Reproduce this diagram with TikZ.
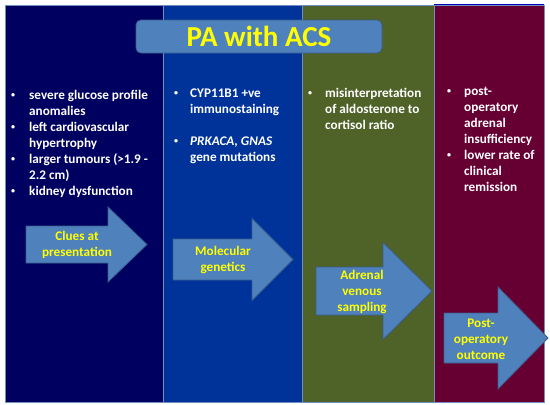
\documentclass[tikz,border=0pt]{standalone}
\usepackage{fontspec}
\setmainfont{Carlito}
\usepackage{tikz}
\usetikzlibrary{positioning}

\definecolor{navycol}{HTML}{000060}
\definecolor{bluecol}{HTML}{003399}
\definecolor{olivecol}{HTML}{4F6228}
\definecolor{wine}{HTML}{660033}
\definecolor{steelline}{HTML}{6F8FBF}
\definecolor{arrowblue}{HTML}{4F81BD}
\definecolor{arrowline}{HTML}{385D8A}
\definecolor{pptyellow}{HTML}{FFFF00}

\newcommand{\blt}{\raisebox{1.2pt}{\fontsize{8}{8}\selectfont\textbullet}}

\begin{document}
\begin{tikzpicture}[x=1pt,y=-1pt,
        panel/.style={draw=steelline,line width=1pt},
        bullets/.style={text=white,font=\bfseries\fontsize{13.2}{16}\selectfont,inner sep=0pt,anchor=base west},
        cue/.style={draw=arrowline,fill=arrowblue,line width=0.8pt,line join=miter},
        cuetext/.style={text=pptyellow,font=\bfseries\fontsize{13.2}{16}\selectfont,align=center,inner sep=0pt},
        title/.style={draw=arrowline,fill=arrowblue,rounded corners=5pt,line width=0.8pt,
                      minimum width=246pt,minimum height=33pt,text=pptyellow,font=\bfseries\fontsize{29}{32}\selectfont}]

  \useasboundingbox (0,0) rectangle (550,405);
  \fill[white] (0,0) rectangle (550,405);

  % four coloured columns
  \filldraw[panel,fill=navycol]  (5,5)   rectangle (163,402);
  \filldraw[panel,fill=bluecol]  (163,5) rectangle (302,402);
  \filldraw[panel,fill=olivecol] (302,5) rectangle (434,402);
  \filldraw[panel,fill=wine]     (434,5) rectangle (544,402);
  \draw[blue!75!black,line width=1.5pt] (434,4.5) -- (544,4.5);

  \node[title] (head) at (259,36.5) {PA with ACS};

  % bullet lists
  \node[bullets] (clues) at (11,99) {\begin{tabular}[t]{@{}p{18pt}@{}l@{}}
      \blt & severe glucose profile\\
           & anomalies\\
      \blt & left cardiovascular\\
           & hypertrophy\\
      \blt & larger tumours (>1.9 -\\
           & 2.2 cm)\\
      \blt & kidney dysfunction
    \end{tabular}};
  \node[bullets] (genes) at (174,97) {\begin{tabular}[t]{@{}p{16pt}@{}l@{}}
      \blt & CYP11B1 +ve\\
           & immunostaining\\[16pt]
      \blt & \textit{PRKACA, GNAS}\\
           & gene mutations
    \end{tabular}};
  \node[bullets] (avs) at (308,97) {\begin{tabular}[t]{@{}p{17pt}@{}l@{}}
      \blt & misinterpretation\\
           & of aldosterone to\\
           & cortisol ratio
    \end{tabular}};
  \node[bullets] (outcome) at (447,95) {\begin{tabular}[t]{@{}p{17pt}@{}l@{}}
      \blt & post-\\
           & operatory\\
           & adrenal\\
           & insufficiency\\
      \blt & lower rate of\\
           & clinical\\
           & remission
    \end{tabular}};

  % block arrows: start, head, tip, centre line, half body, half head
  \foreach \xa/\xh/\xt/\yc/\bh/\hh in {26/108/147/244.5/18.5/37.5, 173/252/293/259.5/20.5/41,
                                         316/383/432/291/24/48.5, 444/498/548/338/25/51}
    \draw[cue] (\xa,\yc-\bh) -- (\xh,\yc-\bh) -- (\xh,\yc-\hh) -- (\xt,\yc)
               -- (\xh,\yc+\hh) -- (\xh,\yc+\bh) -- (\xa,\yc+\bh) -- cycle;

  \node[cuetext] (cluesA)   at (77,245)  {Clues at\\presentation};
  \node[cuetext] (genesA)   at (223,260) {Molecular\\genetics};
  \node[cuetext] (avsA)     at (362,292) {Adrenal\\venous\\sampling};
  \node[cuetext] (outcomeA) at (481,339) {Post-\\operatory\\outcome};
\end{tikzpicture}
\end{document}
